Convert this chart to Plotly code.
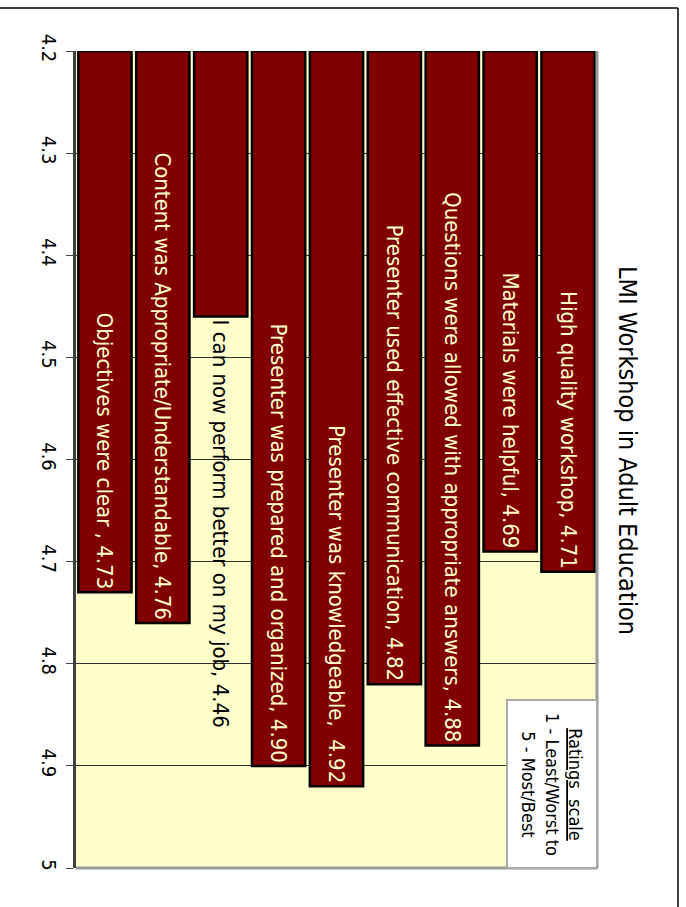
import plotly.graph_objects as go

# ---- data ----
categories = [
    "Objectives were clear ",
    "Content was Appropriate/Understandable",
    "I can now perform better on my job",
    "Presenter was prepared and organized",
    "Presenter was knowledgeable, ",
    "Presenter used effective communication",
    "Questions were allowed with appropriate answers",
    "Materials were helpful",
    "High quality workshop",
]
separators = [", ", ", ", ", ", ", ", " ", ", ", ", ", ", ", ", "]
values = [4.73, 4.76, 4.46, 4.90, 4.92, 4.82, 4.88, 4.69, 4.71]
text_positions = ["inside", "inside", "outside", "inside", "inside",
                  "inside", "inside", "inside", "inside"]
axis_min = 4.2
axis_max = 5.0
tick_values = [4.2, 4.3, 4.4, 4.5, 4.6, 4.7, 4.8, 4.9, 5.0]
tick_labels = ["4.2", "4.3", "4.4", "4.5", "4.6", "4.7", "4.8", "4.9", "5"]
chart_title = "LMI Workshop in Adult Education"
legend_text = "<u>Ratings  scale</u><br>1 - Least/Worst to<br>5 - Most/Best"

FONT = "Liberation Sans Narrow, Arial Narrow, DejaVu Sans Condensed, sans-serif"

bar_text = [f"{c}{s}{v:.2f}" for c, s, v in zip(categories, separators, values)]

fig = go.Figure()
fig.add_trace(go.Bar(
    x=categories,
    y=[v - axis_min for v in values],
    base=axis_min,
    text=bar_text,
    textposition=text_positions,
    textangle=90,
    insidetextanchor="end",
    constraintext="none",
    insidetextfont=dict(family=FONT, size=22, color="#FFFFCC"),
    outsidetextfont=dict(family=FONT, size=22, color="#000000"),
    marker=dict(color="#800000", line=dict(color="#000000", width=2.5)),
    cliponaxis=False,
    hoverinfo="skip",
))

W, H = 686, 907
L, R, T, B = 76, 89, 51, 39
pw = W - L - R
ph = H - T - B

def px_x(px):
    return (px - L) / pw

def px_y(py):
    return (H - B - py) / ph

fig.update_layout(
    width=W, height=H,
    margin=dict(l=L, r=R, t=T, b=B, pad=0),
    paper_bgcolor="white",
    plot_bgcolor="#FFFFCC",
    bargap=0.08,
    showlegend=False,
    font=dict(family=FONT, color="black"),
    xaxis=dict(visible=False, range=[-0.5, len(categories) - 0.5]),
    yaxis=dict(
        range=[axis_max, axis_min],
        tickvals=tick_values,
        ticktext=tick_labels,
        tickangle=90,
        tickfont=dict(family=FONT, size=20, color="black"),
        ticks="outside", ticklen=7, tickcolor="#404040", tickwidth=1,
        ticklabelstandoff=0,
        showgrid=True, gridcolor="#303030", gridwidth=1,
        showline=True, linecolor="#404040", linewidth=2.5,
        zeroline=False,
    ),
    shapes=[
        # plot area right/bottom gray edges
        dict(type="line", xref="paper", yref="paper", x0=1, x1=1, y0=0, y1=1,
             line=dict(color="#9A9A9A", width=3)),
        dict(type="line", xref="paper", yref="paper", x0=0, x1=1, y0=0, y1=0,
             line=dict(color="#9A9A9A", width=3)),
        # legend box
        dict(type="rect", xref="paper", yref="paper", layer="above",
             x0=px_x(507), x1=1.0, y0=0, y1=px_y(700),
             fillcolor="white", line=dict(color="#A8A8A8", width=2)),
        # outer page border (top + right)
        dict(type="line", xref="paper", yref="paper",
             x0=px_x(-5), x1=px_x(678), y0=px_y(8), y1=px_y(8),
             line=dict(color="black", width=1.5)),
        dict(type="line", xref="paper", yref="paper",
             x0=px_x(678), x1=px_x(678), y0=px_y(8), y1=px_y(912),
             line=dict(color="black", width=1.5)),
    ],
    annotations=[
        dict(text=chart_title, xref="paper", yref="paper",
             x=px_x(628), y=px_y(450), showarrow=False, textangle=90,
             font=dict(family=FONT, size=25, color="black"),
             xanchor="center", yanchor="middle"),
        dict(text=legend_text, xref="paper", yref="paper",
             x=px_x(552), y=px_y(784), showarrow=False, textangle=90,
             font=dict(family=FONT, size=18, color="black"),
             align="center", xanchor="center", yanchor="middle"),
    ],
)

fig.write_html("out.html")
